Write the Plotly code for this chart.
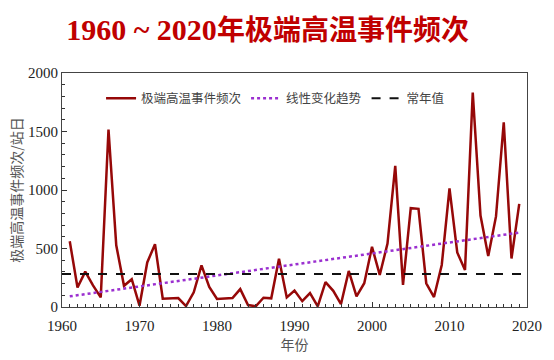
import plotly.graph_objects as go

years = list(range(1961, 2020))
freq = [562, 167, 302, 185, 82, 1517, 528, 181, 237, 11,
        381, 537, 71, 71, 76, 8, 125, 356, 171, 68,
        71, 76, 153, 17, 6, 79, 74, 412, 82, 140,
        50, 119, 6, 212, 138, 25, 308, 91, 203, 514,
        274, 542, 1206, 189, 845, 839, 203, 85, 359, 1014,
        466, 316, 1833, 782, 435, 774, 1579, 415, 881]
trend_years = [1961, 2019]
trend_vals = [91, 636]
normal_years = [1960, 2020]
normal_vals = [281, 281]

title_num = "1960 ~ 2020"
title_cjk = "年极端高温事件频次"
y_title = "极端高温事件频次/站日"
x_title = "年份"
names = ["极端高温事件频次", "线性变化趋势", "常年值"]

serif = "Liberation Serif, Noto Sans CJK SC, serif"
cjk = "Noto Sans CJK SC, sans-serif"

fig = go.Figure()
fig.add_trace(go.Scatter(x=years, y=freq, mode="lines", name=names[0],
                         line=dict(color="#960808", width=2.5)))
fig.add_trace(go.Scatter(x=trend_years, y=trend_vals, mode="lines", name=names[1],
                         line=dict(color="#9b30d0", width=2.5, dash="dot")))
fig.add_trace(go.Scatter(x=normal_years, y=normal_vals, mode="lines", name=names[2],
                         line=dict(color="#111111", width=2, dash="dash")))

title_html = ("<b><span style='font-size:30px'>" + title_num + "</span>"
              "<span style='font-size:28px'>" + title_cjk + "</span></b>")

fig.update_layout(
    width=554, height=360,
    margin=dict(l=62, r=26, t=73, b=51),
    paper_bgcolor="white", plot_bgcolor="white",
    title=dict(text=title_html, x=0.483, xanchor="center",
               y=0.915, yanchor="middle",
               font=dict(family=serif, size=28, color="#c00000")),
    showlegend=True,
    legend=dict(orientation="h", x=0.084, y=0.89, xanchor="left", yanchor="middle",
                font=dict(family=cjk, size=12.5, color="#444444"),
                bgcolor="rgba(0,0,0,0)", itemwidth=30, tracegroupgap=0),
    xaxis=dict(range=[1960, 2020], tickvals=[1960, 1970, 1980, 1990, 2000, 2010, 2020],
               ticks="inside", ticklen=5, tickcolor="#333", showgrid=False, zeroline=False,
               showline=True, linecolor="#444", linewidth=1, mirror=True,
               minor=dict(ticks="inside", dtick=1, ticklen=3, tickcolor="#333"),
               ticklabelstandoff=5,
               tickfont=dict(family=serif, size=15, color="#222"),
               title=dict(text=x_title, font=dict(family=cjk, size=14, color="#555"), standoff=4)),
    yaxis=dict(range=[0, 2000], tickvals=[0, 500, 1000, 1500, 2000],
               ticks="inside", ticklen=5, tickcolor="#333", showgrid=False, zeroline=False,
               showline=True, linecolor="#444", linewidth=1, mirror=True,
               minor=dict(ticks="inside", dtick=100, ticklen=3, tickcolor="#333"),
               tickfont=dict(family=serif, size=15, color="#222"),
               title=dict(text=y_title, font=dict(family=cjk, size=14, color="#555"), standoff=2)),
)

fig.write_html("out.html", config={"displayModeBar": False},
               post_script="document.body.style.margin='0';")
